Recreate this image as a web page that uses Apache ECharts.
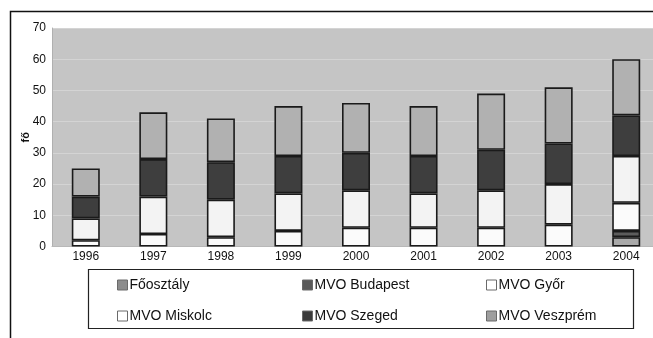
<!DOCTYPE html>
<html>
<head>
<meta charset="utf-8">
<script src="https://cdn.jsdelivr.net/npm/echarts@6/dist/echarts.min.js"></script>
<style>
  html, body { margin: 0; padding: 0; background: #fff; }
  #chart { width: 653px; height: 338px; }
</style>
</head>
<body>
<div id="chart"></div>
<script>
// Staff headcount (fő) per unit, 1996–2004
const years = ['1996', '1997', '1998', '1999', '2000', '2001', '2002', '2003', '2004'];
const foosztaly  = [0, 0, 0, 0, 0, 0, 0, 0, 3];
const budapest   = [0, 0, 0, 0, 0, 0, 0, 0, 2];
const gyor       = [2, 4, 3, 5, 6, 6, 6, 7, 9];
const miskolc    = [7, 12, 12, 12, 12, 11, 12, 13, 15];
const szeged     = [7, 12, 12, 12, 12, 12, 13, 13, 13];
const veszprem   = [9, 15, 14, 16, 16, 16, 18, 18, 18];
const yTicks = [0, 10, 20, 30, 40, 50, 60, 70];

const seriesDefs = [
  { name: 'Főosztály',     data: foosztaly, fill: '#a9a9a9', icon: '#8c8c8c' },
  { name: 'MVO Budapest',  data: budapest,  fill: '#5c5c5c', icon: '#595959' },
  { name: 'MVO Győr',      data: gyor,      fill: '#fbfbfb', icon: '#ffffff' },
  { name: 'MVO Miskolc',   data: miskolc,   fill: '#f3f3f3', icon: '#ffffff' },
  { name: 'MVO Szeged',    data: szeged,    fill: '#3e3e3e', icon: '#3a3a3a' },
  { name: 'MVO Veszprém',  data: veszprem,  fill: '#b1b1b1', icon: '#9e9e9e' }
];

const FONT = 'Liberation Sans, Arial, sans-serif';

const series = seriesDefs.map(d => ({
  name: d.name,
  type: 'bar',
  stack: 'total',
  barWidth: 28,
  data: d.data.map(v => (v === 0 ? '-' : v)),
  itemStyle: { color: d.fill, borderColor: '#1a1a1a', borderWidth: 1.6 },
  emphasis: { disabled: true }
}));

function legendColumn(names, left) {
  return {
    orient: 'vertical',
    left: left,
    top: 278,
    padding: 0,
    itemWidth: 10,
    itemHeight: 10,
    itemGap: 17,
    icon: 'rect',
    selectedMode: false,
    data: names.map(n => {
      const d = seriesDefs.find(s => s.name === n);
      return {
        name: n,
        itemStyle: { color: d.icon, borderColor: '#6a6a6a', borderWidth: 1 }
      };
    }),
    textStyle: { fontFamily: FONT, fontSize: 14, color: '#111', padding: [0, 0, 0, -3] }
  };
}

const chart = echarts.init(document.getElementById('chart'), null, { renderer: 'canvas' });
chart.setOption({
  animation: false,
  backgroundColor: '#ffffff',
  grid: {
    left: 52, top: 28, width: 608, height: 218.5,
    outerBoundsMode: 'none',
    containLabel: false,
    show: true, backgroundColor: '#c5c5c5', borderWidth: 0
  },
  xAxis: {
    type: 'category',
    data: years,
    axisLine: { show: true, lineStyle: { color: '#b8b8b8', width: 1 } },
    axisTick: { show: false },
    axisLabel: { fontFamily: FONT, fontSize: 12, color: '#111', margin: 4 }
  },
  yAxis: {
    type: 'value',
    min: yTicks[0],
    max: yTicks[yTicks.length - 1],
    interval: 10,
    name: 'fő',
    nameLocation: 'middle',
    nameGap: 21,
    nameRotate: 90,
    nameMoveOverlap: false,
    nameTextStyle: { fontFamily: FONT, fontSize: 11, fontWeight: 'bold', color: '#111' },
    axisLine: { show: true, lineStyle: { color: '#b0b0b0' } },
    axisTick: { show: false },
    axisLabel: { fontFamily: FONT, fontSize: 12, color: '#111', margin: 6 },
    splitLine: { show: true, lineStyle: { color: '#d4d4d4', width: 1 } }
  },
  legend: [
    legendColumn(['Főosztály', 'MVO Miskolc'], 117),
    legendColumn(['MVO Budapest', 'MVO Szeged'], 302),
    legendColumn(['MVO Győr', 'MVO Veszprém'], 486)
  ],
  graphic: [
    // outer frame (top and left edges)
    { type: 'polyline', silent: true, z: 100,
      shape: { points: [[10.5, 338], [10.5, 11.5], [653, 11.5]] },
      style: { stroke: '#111', lineWidth: 1.5, fill: null } },
    // legend box
    { type: 'rect', silent: true, z: 100,
      shape: { x: 88.5, y: 269.5, width: 545, height: 59 },
      style: { stroke: '#222', lineWidth: 1.2, fill: null } }
  ],
  series: series
});
</script>
</body>
</html>
